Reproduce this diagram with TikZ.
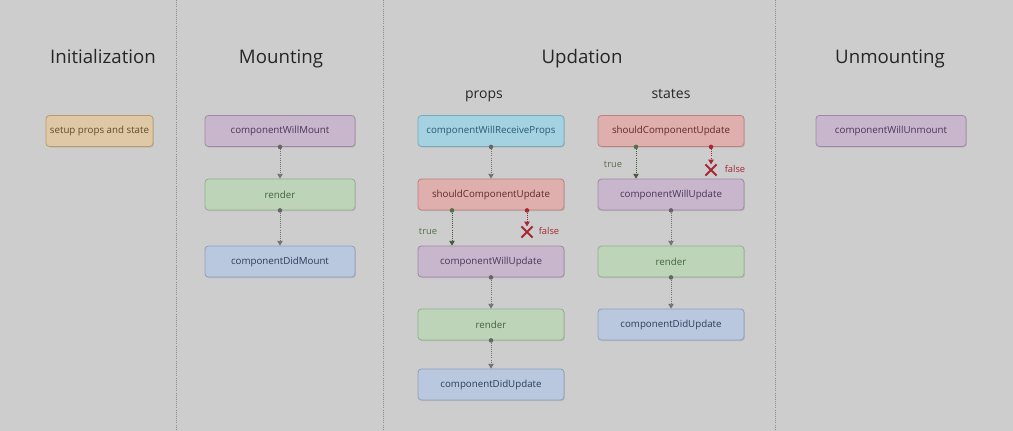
\documentclass[tikz,border=0pt]{standalone}
\usepackage{fontspec}
\setmainfont{Open Sans}
\usetikzlibrary{arrows.meta,shapes.misc,shadows}
\definecolor{bg}{RGB}{205,205,205}
\definecolor{orF}{RGB}{222,200,165}\definecolor{orD}{RGB}{185,155,105}\definecolor{orT}{RGB}{100,75,40}
\definecolor{puF}{RGB}{200,182,205}\definecolor{puD}{RGB}{160,135,165}\definecolor{puT}{RGB}{70,55,85}
\definecolor{grF}{RGB}{190,212,185}\definecolor{grD}{RGB}{145,175,140}\definecolor{grT}{RGB}{60,100,60}
\definecolor{blF}{RGB}{185,200,222}\definecolor{blD}{RGB}{140,160,190}\definecolor{blT}{RGB}{45,60,90}
\definecolor{cyF}{RGB}{165,210,225}\definecolor{cyD}{RGB}{115,170,190}\definecolor{cyT}{RGB}{40,90,115}
\definecolor{reF}{RGB}{222,175,172}\definecolor{reD}{RGB}{185,130,125}\definecolor{reT}{RGB}{100,40,40}
\definecolor{tru}{RGB}{85,110,75}\definecolor{fal}{RGB}{165,40,50}
\tikzset{
  box/.style={draw, rounded corners=2.5pt, line width=0.6pt, minimum height=23.25pt,
     font=\fontsize{7.3}{8}\selectfont, inner sep=1pt,
     drop shadow={shadow xshift=0.7pt, shadow yshift=-0.8pt, opacity=0.25}},
  ob/.style={box, fill=orF, draw=orD, text=orT, minimum width=80.25pt},
  pb/.style={box, fill=puF, draw=puD, text=puT},
  gb/.style={box, fill=grF, draw=grD, text=grT},
  bb/.style={box, fill=blF, draw=blD, text=blT},
  cb/.style={box, fill=cyF, draw=cyD, text=cyT},
  rb/.style={box, fill=reF, draw=reD, text=reT},
  wide/.style={minimum width=112.5pt},
  mid/.style={minimum width=109.5pt},
  conn/.style={draw=black!55, densely dotted, line width=0.6pt, -{Triangle[length=3.5pt,width=4pt]}},
  tconn/.style={conn, draw=tru!80!black},
  fconn/.style={conn, draw=fal},
  title/.style={font=\fontsize{14}{16}\selectfont, text=black!85, anchor=base},
  sub/.style={font=\fontsize{10.5}{12}\selectfont, text=black!85, anchor=base},
  lab/.style={font=\fontsize{7}{8}\selectfont},
  divider/.style={draw=black!45, densely dotted, line width=0.6pt},
  xmark/.style={cross out, draw=fal, line width=1.4pt, minimum size=7pt, inner sep=0pt},
}
\begin{document}
\begin{tikzpicture}[x=0.75pt,y=-0.75pt]
\fill[bg] (0,0) rectangle (1013,431);
\useasboundingbox (0,0) rectangle (1013,431);
% dividers
\coordinate (d1t) at (176,0); \coordinate (d1b) at (176,431);
\coordinate (d2t) at (383,0); \coordinate (d2b) at (383,431);
\coordinate (d3t) at (775,0); \coordinate (d3b) at (775,431);
\draw[divider] (d1t) -- (d1b);
\draw[divider] (d2t) -- (d2b);
\draw[divider] (d3t) -- (d3b);
% titles
\node[title] (tInit) at (103,63.5) {Initialization};
\node[title] (tMount) at (281,63.5) {Mounting};
\node[title] (tUpd) at (582,63.5) {Updation};
\node[title] (tUnm) at (890,63.5) {Unmounting};
\node[sub] (sProps) at (484,98.5) {props};
\node[sub] (sStates) at (671,98.5) {states};
% initialization
\node[ob] (setup) at (99.5,131) {setup props and state};
% mounting
\node[pb,wide] (cwm) at (280,131) {componentWillMount};
\node[gb,wide] (mr) at (280,194.5) {render};
\node[bb,wide] (cdm) at (280,261.5) {componentDidMount};
% updation props
\node[cb,mid] (cwrp) at (491,131) {componentWillReceiveProps};
\node[rb,mid] (pscu) at (491,194.5) {shouldComponentUpdate};
\node[pb,mid] (pcwu) at (491,261.5) {componentWillUpdate};
\node[gb,mid] (pr) at (491,324.5) {render};
\node[bb,mid] (pcdu) at (491,384.5) {componentDidUpdate};
% updation states
\node[rb,mid] (sscu) at (671,131) {shouldComponentUpdate};
\node[pb,mid] (scwu) at (671,194.5) {componentWillUpdate};
\node[gb,mid] (sr) at (671,261.5) {render};
\node[bb,mid] (scdu) at (671,324.5) {componentDidUpdate};
% unmounting
\node[pb,wide] (cwu) at (891,131) {componentWillUnmount};
% plain connectors
\foreach \a/\b in {cwm/mr, mr/cdm, cwrp/pscu, pcwu/pr, pr/pcdu, scwu/sr, sr/scdu}{
  \draw[conn] (\a.south) -- (\b.north);
  \fill[black!60] (\a.south) circle (1.7pt);
}
% props true / false
\draw[tconn] ([xshift=-29.25pt]pscu.south) -- ([xshift=-29.25pt]pcwu.north);
\fill[tru] ([xshift=-29.25pt]pscu.south) circle (1.7pt);
\node[lab,text=tru] (ptrue) at (428,231) {true};
\node[xmark] (px) at (527,232) {};
\draw[fconn] ([xshift=27pt]pscu.south) -- (px.north);
\fill[fal] ([xshift=27pt]pscu.south) circle (1.7pt);
\node[lab,text=fal] (pfalse) at (549,231) {false};
% states true / false
\draw[tconn] ([xshift=-26.25pt]sscu.south) -- ([xshift=-26.25pt]scwu.north);
\fill[tru] ([xshift=-26.25pt]sscu.south) circle (1.7pt);
\node[lab,text=tru] (strue) at (613,164) {true};
\node[xmark] (sx) at (711,170) {};
\draw[fconn] ([xshift=30pt]sscu.south) -- (sx.north);
\fill[fal] ([xshift=30pt]sscu.south) circle (1.7pt);
\node[lab,text=fal] (sfalse) at (735,169) {false};
\end{tikzpicture}
\end{document}
